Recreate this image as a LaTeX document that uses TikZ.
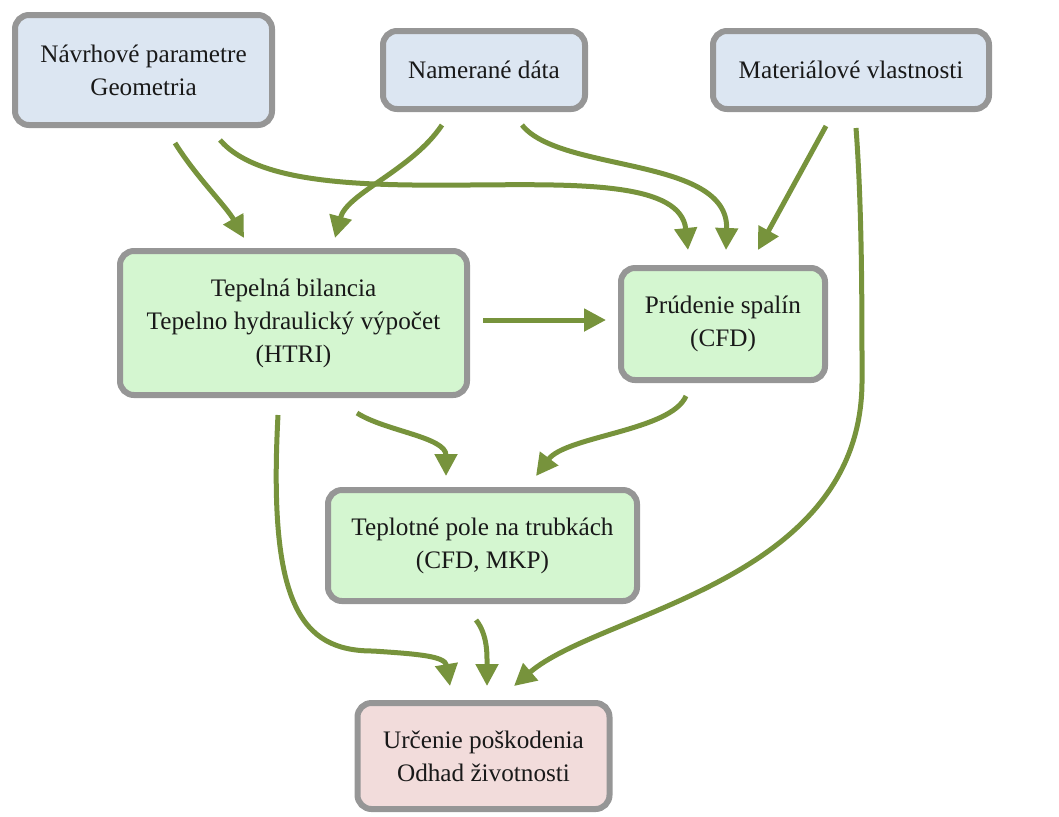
\documentclass[tikz,border=0pt]{standalone}
\usepackage{fontspec}
\setmainfont{Liberation Serif}
\usepackage{tikz}
\usetikzlibrary{arrows.meta,calc}
\definecolor{inblue}{RGB}{220,230,242}
\definecolor{calcgreen}{RGB}{212,246,208}
\definecolor{outpink}{RGB}{242,220,219}
\definecolor{framegray}{RGB}{150,150,150}
\definecolor{flowgreen}{RGB}{119,147,60}

\begin{document}
\begin{tikzpicture}[
  x=0.5pt,y=-0.5pt,
  box/.style={draw=framegray,line width=3pt,rounded corners=7pt,align=center,inner sep=0pt,
    font=\fontsize{12.6}{16.5}\selectfont,text=black!90},
  inbox/.style={box,fill=inblue},
  calcbox/.style={box,fill=calcgreen},
  outbox/.style={box,fill=outpink},
  arr/.style={-{Triangle[length=11pt,width=11pt]},line width=2.5pt,draw=flowgreen}
]
\useasboundingbox (0,0) rectangle (1059,816);
% inputs
\node[inbox,minimum width=128.5pt,minimum height=55pt] (nav) at (143.5,70) {Návrhové parametre\\Geometria};
\node[inbox,minimum width=101pt,minimum height=39pt] (nam) at (484,70) {Namerané dáta};
\node[inbox,minimum width=138pt,minimum height=39pt] (mat) at (851,70) {Materiálové vlastnosti};
% calculations
\node[calcbox,minimum width=173.5pt,minimum height=72pt] (tep) at (293.5,323) {Tepelná bilancia\\Tepelno hydraulický výpočet\\(HTRI)};
\node[calcbox,minimum width=102pt,minimum height=56pt] (pru) at (723,324) {Prúdenie spalín\\(CFD)};
\node[calcbox,minimum width=154.5pt,minimum height=55.5pt] (tpl) at (482.5,545.5) {Teplotné pole na trubkách\\(CFD, MKP)};
% result
\node[outbox,minimum width=126pt,minimum height=53pt] (urc) at (483.5,756) {Určenie poškodenia\\Odhad životnosti};

\draw[arr] ($(nav.south)+(31.5,15)$) .. controls +(22,35) and +(-18,-32) .. ($(tep.north)+(-49.5,-10)$);
\draw[arr] ($(nav.south)+(76.5,12)$) .. controls +(80,93) and +(-12,-113) .. ($(pru.north)+(-35,-15)$);
\draw[arr] ($(nam.south)+(-42,13)$) .. controls +(-30,45) and +(12,-45) .. ($(tep.north)+(41.5,-10)$);
\draw[arr] ($(nam.south)+(38,13)$) .. controls +(38,48) and +(3,-94) .. ($(pru.north)+(3,-15)$);
\draw[arr] ($(mat.south)+(-25,14)$) -- ($(pru.north)+(35,-15)$);
\draw[arr] ($(mat.south)+(5,16)$) .. controls +(6,80) and +(0,-80) .. ($(mat.south)+(11,271)$)
  .. controls +(-2,200) and +(86,-74) .. ($(urc.north)+(30.5,-14)$);
\draw[arr] ($(tep.east)+(13,-3)$) -- ($(pru.west)+(-12,-4)$);
\draw[arr] ($(tep.south)+(63.5,15)$) .. controls +(28,18) and +(0,-39) .. ($(tpl.north)+(-36.5,-11)$);
\draw[arr] ($(pru.south)+(-37,13)$) .. controls +(-15,35) and +(30,-40) .. ($(tpl.north)+(53.5,-11)$);
\draw[arr] ($(tep.south)+(-15.5,17)$) .. controls +(-10,188) and +(-73,0) .. ($(tep.south)+(79.5,253)$)
  .. controls +(45,3) and +(-5,-30) .. ($(urc.north)+(-33.5,-14)$);
\draw[arr] ($(tpl.south)+(-6.5,16)$) .. controls +(12,15) and +(0,-30) .. ($(urc.north)+(3.5,-14)$);
\end{tikzpicture}
\end{document}
